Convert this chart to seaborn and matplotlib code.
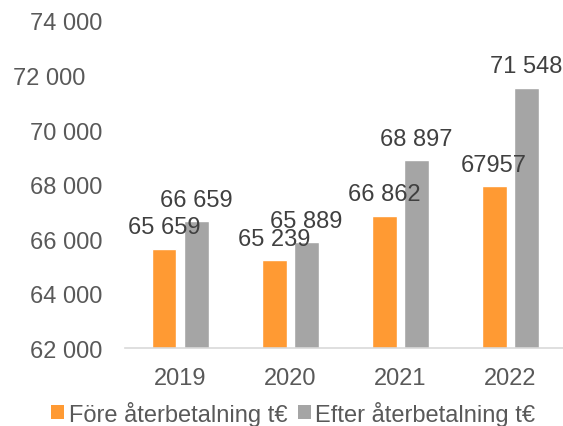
import matplotlib
matplotlib.use('Agg')
import matplotlib.pyplot as plt
import matplotlib.transforms as mtransforms
from matplotlib.patches import Patch
import seaborn as sns
import pandas as pd

# Chart data
years = ['2019', '2020', '2021', '2022']
fore = [65659, 65239, 66862, 67957]
efter = [66659, 65889, 68897, 71548]
fore_labels = ['65 659', '65 239', '66 862', '67957']
efter_labels = ['66 659', '65 889', '68 897', '71 548']
series_names = ['Före återbetalning t€', 'Efter återbetalning t€']
y_ticks = [62000, 64000, 66000, 68000, 70000, 72000, 74000]
y_tick_labels = ['62 000', '64 000', '66 000', '68 000', '70 000', '72 000', '74 000']

df = pd.DataFrame({
    'year': years * 2,
    'value': fore + efter,
    'series': [series_names[0]] * len(years) + [series_names[1]] * len(years),
})

sns.set_style('white')
plt.rcParams['font.family'] = ['Liberation Sans', 'DejaVu Sans']
plt.rcParams['font.size'] = 17

fig = plt.figure(figsize=(5.63, 4.27), dpi=100)
ax = fig.add_axes([0.222, 0.1815, 0.782, 0.767])

palette = {series_names[0]: '#FF9A33', series_names[1]: '#A5A5A5'}
sns.barplot(data=df, x='year', y='value', hue='series', hue_order=series_names,
            palette=palette, width=0.582, gap=0.22, saturation=1,
            ax=ax, legend=False)

ax.set_ylim(62000, 74000)
ax.set_yticks(y_ticks)
ax.set_yticklabels(y_tick_labels)
ax.set_xlabel('')
ax.set_ylabel('')

# Data labels above bars (they overlap in the original too)
for cont, labs in zip(ax.containers, [fore_labels, efter_labels]):
    ax.bar_label(cont, labels=labs, padding=7.5, color='#404040', fontsize=17)

# Axis styling
for side in ['left', 'right', 'top']:
    ax.spines[side].set_visible(False)
ax.spines['bottom'].set_color('#D9D9D9')
ax.spines['bottom'].set_linewidth(1.2)
ax.tick_params(axis='y', length=0, pad=16, labelcolor='#595959', labelsize=17)
ax.tick_params(axis='x', length=0, pad=13, labelcolor='#595959', labelsize=17)

# Category boundary ticks on the x axis
ax.set_xticks([-0.5, 0.5, 1.5, 2.5, 3.5], minor=True)
ax.tick_params(axis='x', which='minor', length=5, width=1.2, color='#D9D9D9', direction='out')
ax.set_xlim(-0.5, 3.5)

# The 72 000 label sits further left in the original
for lbl in ax.get_yticklabels():
    if lbl.get_text() == '72 000':
        lbl.set_transform(lbl.get_transform() +
                          mtransforms.ScaledTranslation(-17 / 100, 0, fig.dpi_scale_trans))

# Legend at the bottom
handles = [Patch(facecolor=palette[n], edgecolor='none', label=n) for n in series_names]
leg = fig.legend(handles=handles, loc='center', bbox_to_anchor=(0.521, 0.03),
                 ncol=2, frameon=False, fontsize=17, handlelength=0.55, handleheight=0.55,
                 handletextpad=0.2, columnspacing=0.42, borderpad=0, borderaxespad=0)
for t in leg.get_texts():
    t.set_color('#595959')

fig.savefig('out.png', dpi=100, facecolor='white')
